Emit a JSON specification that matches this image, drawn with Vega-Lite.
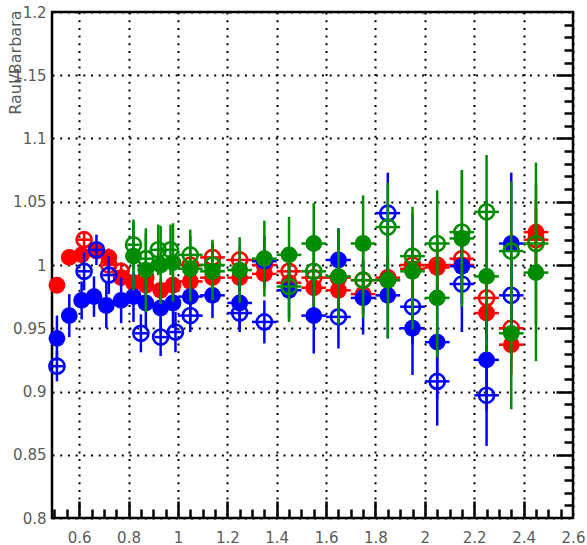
{
  "$schema": "https://vega.github.io/schema/vega-lite/v6.json",
  "autosize": "none",
  "width": 521,
  "height": 506,
  "padding": {"left": 52, "top": 12, "right": 14, "bottom": 27},
  "background": "white",
  "config": {
    "view": {"stroke": "black", "strokeWidth": 2.5},
    "axis": {
      "labelFont": "DejaVu Sans",
      "labelFontSize": 15,
      "labelColor": "#5a5a5a",
      "titleFont": "DejaVu Sans",
      "titleColor": "#5a5a5a",
      "gridColor": "black",
      "domain": false,
      "ticks": false,
      "labelFlush": false,
      "labelOverlap": false,
      "labelBound": false
    }
  },
  "data": {
    "values": [
      {"s": "rf", "x": 0.51, "y": 0.984, "e": 0.006, "ex": 0.025},
      {"s": "rf", "x": 0.56, "y": 1.006, "e": 0.006, "ex": 0.025},
      {"s": "rf", "x": 0.61, "y": 1.008, "e": 0.006, "ex": 0.025},
      {"s": "rf", "x": 0.67, "y": 1.011, "e": 0.006, "ex": 0.025},
      {"s": "rf", "x": 0.72, "y": 1.006, "e": 0.007, "ex": 0.025},
      {"s": "rf", "x": 0.77, "y": 0.99, "e": 0.007, "ex": 0.025},
      {"s": "rf", "x": 0.82, "y": 0.986, "e": 0.008, "ex": 0.025},
      {"s": "rf", "x": 0.87, "y": 0.984, "e": 0.008, "ex": 0.025},
      {"s": "rf", "x": 0.93, "y": 0.98, "e": 0.009, "ex": 0.025},
      {"s": "rf", "x": 0.98, "y": 0.984, "e": 0.009, "ex": 0.025},
      {"s": "rf", "x": 1.05, "y": 0.987, "e": 0.01, "ex": 0.05},
      {"s": "rf", "x": 1.14, "y": 0.99, "e": 0.01, "ex": 0.05},
      {"s": "rf", "x": 1.25, "y": 0.99, "e": 0.011, "ex": 0.05},
      {"s": "rf", "x": 1.35, "y": 0.993, "e": 0.012, "ex": 0.05},
      {"s": "rf", "x": 1.45, "y": 0.986, "e": 0.013, "ex": 0.05},
      {"s": "rf", "x": 1.55, "y": 0.982, "e": 0.014, "ex": 0.05},
      {"s": "rf", "x": 1.65, "y": 0.98, "e": 0.015, "ex": 0.05},
      {"s": "rf", "x": 1.75, "y": 0.977, "e": 0.016, "ex": 0.05},
      {"s": "rf", "x": 1.85, "y": 0.988, "e": 0.017, "ex": 0.05},
      {"s": "rf", "x": 1.95, "y": 0.997, "e": 0.018, "ex": 0.05},
      {"s": "rf", "x": 2.05, "y": 0.998, "e": 0.02, "ex": 0.05},
      {"s": "rf", "x": 2.15, "y": 1.0, "e": 0.02, "ex": 0.05},
      {"s": "rf", "x": 2.25, "y": 0.962, "e": 0.022, "ex": 0.05},
      {"s": "rf", "x": 2.35, "y": 0.937, "e": 0.024, "ex": 0.05},
      {"s": "rf", "x": 2.45, "y": 1.026, "e": 0.025, "ex": 0.05},

      {"s": "ro", "x": 0.62, "y": 1.02, "e": 0.006, "ex": 0.025},
      {"s": "ro", "x": 0.72, "y": 1.0, "e": 0.007, "ex": 0.025},
      {"s": "ro", "x": 0.77, "y": 0.995, "e": 0.007, "ex": 0.025},
      {"s": "ro", "x": 0.87, "y": 0.99, "e": 0.008, "ex": 0.025},
      {"s": "ro", "x": 1.05, "y": 1.0, "e": 0.01, "ex": 0.05},
      {"s": "ro", "x": 1.14, "y": 1.006, "e": 0.01, "ex": 0.05},
      {"s": "ro", "x": 1.25, "y": 1.004, "e": 0.011, "ex": 0.05},
      {"s": "ro", "x": 1.35, "y": 1.0, "e": 0.012, "ex": 0.05},
      {"s": "ro", "x": 1.45, "y": 0.995, "e": 0.013, "ex": 0.05},
      {"s": "ro", "x": 1.55, "y": 0.99, "e": 0.014, "ex": 0.05},
      {"s": "ro", "x": 1.65, "y": 0.99, "e": 0.015, "ex": 0.05},
      {"s": "ro", "x": 1.75, "y": 0.988, "e": 0.016, "ex": 0.05},
      {"s": "ro", "x": 1.85, "y": 0.99, "e": 0.017, "ex": 0.05},
      {"s": "ro", "x": 1.95, "y": 1.0, "e": 0.018, "ex": 0.05},
      {"s": "ro", "x": 2.05, "y": 1.0, "e": 0.02, "ex": 0.05},
      {"s": "ro", "x": 2.15, "y": 1.005, "e": 0.02, "ex": 0.05},
      {"s": "ro", "x": 2.25, "y": 0.974, "e": 0.022, "ex": 0.05},
      {"s": "ro", "x": 2.35, "y": 0.95, "e": 0.024, "ex": 0.05},
      {"s": "ro", "x": 2.45, "y": 1.02, "e": 0.025, "ex": 0.05},

      {"s": "bf", "x": 0.51, "y": 0.942, "e": 0.018, "ex": 0.025},
      {"s": "bf", "x": 0.56, "y": 0.96, "e": 0.017, "ex": 0.025},
      {"s": "bf", "x": 0.61, "y": 0.972, "e": 0.015, "ex": 0.025},
      {"s": "bf", "x": 0.66, "y": 0.975, "e": 0.016, "ex": 0.025},
      {"s": "bf", "x": 0.71, "y": 0.968, "e": 0.018, "ex": 0.025},
      {"s": "bf", "x": 0.77, "y": 0.972, "e": 0.018, "ex": 0.025},
      {"s": "bf", "x": 0.82, "y": 0.975, "e": 0.02, "ex": 0.025},
      {"s": "bf", "x": 0.87, "y": 0.97, "e": 0.02, "ex": 0.025},
      {"s": "bf", "x": 0.93, "y": 0.966, "e": 0.02, "ex": 0.025},
      {"s": "bf", "x": 0.98, "y": 0.97, "e": 0.02, "ex": 0.025},
      {"s": "bf", "x": 1.05, "y": 0.975, "e": 0.02, "ex": 0.05},
      {"s": "bf", "x": 1.14, "y": 0.976, "e": 0.018, "ex": 0.05},
      {"s": "bf", "x": 1.25, "y": 0.97, "e": 0.02, "ex": 0.05},
      {"s": "bf", "x": 1.35, "y": 1.003, "e": 0.02, "ex": 0.05},
      {"s": "bf", "x": 1.45, "y": 0.98, "e": 0.022, "ex": 0.05},
      {"s": "bf", "x": 1.55, "y": 0.96, "e": 0.03, "ex": 0.05},
      {"s": "bf", "x": 1.65, "y": 1.004, "e": 0.025, "ex": 0.05},
      {"s": "bf", "x": 1.75, "y": 0.974, "e": 0.029, "ex": 0.05},
      {"s": "bf", "x": 1.85, "y": 0.976, "e": 0.034, "ex": 0.05},
      {"s": "bf", "x": 1.95, "y": 0.95, "e": 0.037, "ex": 0.05},
      {"s": "bf", "x": 2.05, "y": 0.939, "e": 0.045, "ex": 0.05},
      {"s": "bf", "x": 2.15, "y": 0.999, "e": 0.03, "ex": 0.05},
      {"s": "bf", "x": 2.25, "y": 0.925, "e": 0.04, "ex": 0.05},
      {"s": "bf", "x": 2.35, "y": 1.017, "e": 0.056, "ex": 0.05},

      {"s": "bo", "x": 0.51, "y": 0.92, "e": 0.012, "ex": 0.025},
      {"s": "bo", "x": 0.62, "y": 0.995, "e": 0.015, "ex": 0.025},
      {"s": "bo", "x": 0.67, "y": 1.012, "e": 0.012, "ex": 0.025},
      {"s": "bo", "x": 0.72, "y": 0.992, "e": 0.015, "ex": 0.025},
      {"s": "bo", "x": 0.85, "y": 0.946, "e": 0.015, "ex": 0.025},
      {"s": "bo", "x": 0.93, "y": 0.943, "e": 0.015, "ex": 0.025},
      {"s": "bo", "x": 0.99, "y": 0.947, "e": 0.016, "ex": 0.025},
      {"s": "bo", "x": 1.05, "y": 0.96, "e": 0.013, "ex": 0.05},
      {"s": "bo", "x": 1.25, "y": 0.962, "e": 0.015, "ex": 0.05},
      {"s": "bo", "x": 1.35, "y": 0.955, "e": 0.017, "ex": 0.05},
      {"s": "bo", "x": 1.65, "y": 0.959, "e": 0.025, "ex": 0.05},
      {"s": "bo", "x": 1.85, "y": 1.041, "e": 0.032, "ex": 0.05},
      {"s": "bo", "x": 1.95, "y": 0.967, "e": 0.03, "ex": 0.05},
      {"s": "bo", "x": 2.05, "y": 0.908, "e": 0.035, "ex": 0.05},
      {"s": "bo", "x": 2.15, "y": 0.985, "e": 0.038, "ex": 0.05},
      {"s": "bo", "x": 2.25, "y": 0.897, "e": 0.04, "ex": 0.05},
      {"s": "bo", "x": 2.35, "y": 0.976, "e": 0.03, "ex": 0.05},

      {"s": "gf", "x": 0.82, "y": 1.007, "e": 0.027, "ex": 0.025},
      {"s": "gf", "x": 0.87, "y": 0.996, "e": 0.033, "ex": 0.025},
      {"s": "gf", "x": 0.93, "y": 1.0, "e": 0.031, "ex": 0.025},
      {"s": "gf", "x": 0.98, "y": 1.002, "e": 0.031, "ex": 0.025},
      {"s": "gf", "x": 1.05, "y": 0.997, "e": 0.026, "ex": 0.05},
      {"s": "gf", "x": 1.14, "y": 0.995, "e": 0.023, "ex": 0.05},
      {"s": "gf", "x": 1.25, "y": 0.996, "e": 0.026, "ex": 0.05},
      {"s": "gf", "x": 1.35, "y": 1.005, "e": 0.03, "ex": 0.05},
      {"s": "gf", "x": 1.45, "y": 1.008, "e": 0.03, "ex": 0.05},
      {"s": "gf", "x": 1.55, "y": 1.017, "e": 0.032, "ex": 0.05},
      {"s": "gf", "x": 1.65, "y": 0.991, "e": 0.038, "ex": 0.05},
      {"s": "gf", "x": 1.75, "y": 1.017, "e": 0.038, "ex": 0.05},
      {"s": "gf", "x": 1.85, "y": 0.988, "e": 0.046, "ex": 0.05},
      {"s": "gf", "x": 1.95, "y": 0.995, "e": 0.046, "ex": 0.05},
      {"s": "gf", "x": 2.05, "y": 0.974, "e": 0.047, "ex": 0.05},
      {"s": "gf", "x": 2.15, "y": 1.021, "e": 0.054, "ex": 0.05},
      {"s": "gf", "x": 2.25, "y": 0.991, "e": 0.06, "ex": 0.05},
      {"s": "gf", "x": 2.35, "y": 0.946, "e": 0.06, "ex": 0.05},
      {"s": "gf", "x": 2.45, "y": 0.994, "e": 0.07, "ex": 0.05},

      {"s": "go", "x": 0.82, "y": 1.016, "e": 0.02, "ex": 0.025},
      {"s": "go", "x": 0.87, "y": 1.005, "e": 0.02, "ex": 0.025},
      {"s": "go", "x": 0.92, "y": 1.012, "e": 0.02, "ex": 0.025},
      {"s": "go", "x": 0.97, "y": 1.012, "e": 0.02, "ex": 0.025},
      {"s": "go", "x": 1.05, "y": 1.008, "e": 0.02, "ex": 0.05},
      {"s": "go", "x": 1.14, "y": 1.0, "e": 0.02, "ex": 0.05},
      {"s": "go", "x": 1.45, "y": 0.983, "e": 0.028, "ex": 0.05},
      {"s": "go", "x": 1.55, "y": 0.995, "e": 0.028, "ex": 0.05},
      {"s": "go", "x": 1.75, "y": 0.988, "e": 0.03, "ex": 0.05},
      {"s": "go", "x": 1.85, "y": 1.03, "e": 0.035, "ex": 0.05},
      {"s": "go", "x": 1.95, "y": 1.007, "e": 0.039, "ex": 0.05},
      {"s": "go", "x": 2.05, "y": 1.017, "e": 0.042, "ex": 0.05},
      {"s": "go", "x": 2.15, "y": 1.026, "e": 0.049, "ex": 0.05},
      {"s": "go", "x": 2.25, "y": 1.042, "e": 0.045, "ex": 0.05},
      {"s": "go", "x": 2.35, "y": 1.011, "e": 0.055, "ex": 0.05},
      {"s": "go", "x": 2.45, "y": 1.017, "e": 0.064, "ex": 0.05}
    ]
  },
  "resolve": {"axis": {"x": "independent", "y": "independent"}},
  "layer": [
    {
      "description": "red filled vertical error bars; its axes draw the short inward minor ticks as grid lines dashed only at the frame end",
      "transform": [{"filter": "datum.s === 'rf'"}],
      "mark": {"type": "errorbar", "color": "#ff0000", "thickness": 2.5},
      "encoding": {
        "x": {
          "field": "x", "type": "quantitative",
          "scale": {"domain": [0.49, 2.6], "nice": false, "zero": false},
          "axis": {
            "orient": "bottom", "title": null, "labels": false,
            "grid": true, "gridDash": [9, 497], "gridDashOffset": 9, "gridWidth": 2.5,
            "values": [0.5, 0.55, 0.65, 0.7, 0.75, 0.85, 0.9, 0.95, 1.05, 1.1, 1.15, 1.25, 1.3, 1.35, 1.45, 1.5, 1.55, 1.65, 1.7, 1.75, 1.85, 1.9, 1.95, 2.05, 2.1, 2.15, 2.25, 2.3, 2.35, 2.45, 2.5, 2.55]
          }
        },
        "y": {
          "field": "y", "type": "quantitative",
          "scale": {"domain": [0.8, 1.2], "nice": false, "zero": false},
          "axis": {
            "orient": "left", "title": null, "labels": false,
            "grid": true, "gridDash": [9, 512], "gridDashOffset": 9, "gridWidth": 2.5,
            "values": [0.81, 0.82, 0.83, 0.84, 0.86, 0.87, 0.88, 0.89, 0.91, 0.92, 0.93, 0.94, 0.96, 0.97, 0.98, 0.99, 1.01, 1.02, 1.03, 1.04, 1.06, 1.07, 1.08, 1.09, 1.11, 1.12, 1.13, 1.14, 1.16, 1.17, 1.18, 1.19]
          }
        },
        "yError": {"field": "e"}
      }
    },
    {
      "description": "red filled markers; carries the labelled bottom/left axes and the dotted grid",
      "transform": [{"filter": "datum.s === 'rf'"}],
      "encoding": {
        "x": {
          "field": "x", "type": "quantitative",
          "scale": {"domain": [0.49, 2.6], "nice": false, "zero": false},
          "axis": {
            "orient": "bottom", "title": null, "format": "~g", "labelPadding": 12,
            "grid": true, "gridDash": [2, 5.7], "gridWidth": 2,
            "values": [0.6, 0.8, 1.0, 1.2, 1.4, 1.6, 1.8, 2.0, 2.2, 2.4, 2.6]
          }
        },
        "y": {
          "field": "y", "type": "quantitative",
          "scale": {"domain": [0.8, 1.2], "nice": false, "zero": false},
          "axis": {
            "orient": "left", "format": "~g", "labelPadding": 6,
            "grid": true, "gridDash": [2, 5.7], "gridWidth": 2,
            "values": [0.8, 0.85, 0.9, 0.95, 1.0, 1.05, 1.1, 1.15, 1.2],
            "title": "Raul/Barbara",
            "titleFontSize": 16,
            "titleFontWeight": "normal",
            "titleAngle": -90,
            "titleAlign": "right",
            "titleBaseline": "middle",
            "titleAnchor": "end",
            "titleX": -37,
            "titleY": -2
          }
        }
      },
      "layer": [
        {"mark": {"type": "errorbar", "color": "#ff0000", "thickness": 2.5}, "encoding": {"xError": {"field": "ex"}}},
        {"mark": {"type": "point", "shape": "circle", "filled": true, "color": "#ff0000", "opacity": 1, "size": 283}}
      ]
    },
    {
      "description": "remaining series; its axes draw the longer inward major ticks",
      "encoding": {
        "x": {
          "field": "x", "type": "quantitative",
          "scale": {"domain": [0.49, 2.6], "nice": false, "zero": false},
          "axis": {
            "orient": "bottom", "title": null, "labels": false,
            "grid": true, "gridDash": [17, 489], "gridDashOffset": 17, "gridWidth": 2.5,
            "values": [0.6, 0.8, 1.0, 1.2, 1.4, 1.6, 1.8, 2.0, 2.2, 2.4]
          }
        },
        "y": {
          "field": "y", "type": "quantitative",
          "scale": {"domain": [0.8, 1.2], "nice": false, "zero": false},
          "axis": {
            "orient": "left", "title": null, "labels": false,
            "grid": true, "gridDash": [17, 504], "gridDashOffset": 17, "gridWidth": 2.5,
            "values": [0.85, 0.9, 0.95, 1.0, 1.05, 1.1, 1.15]
          }
        }
      },
      "layer": [
        {"transform": [{"filter": "datum.s === 'ro'"}], "mark": {"type": "errorbar", "color": "#ff0000", "thickness": 2.5}, "encoding": {"yError": {"field": "e"}}},
        {"transform": [{"filter": "datum.s === 'ro'"}], "mark": {"type": "errorbar", "color": "#ff0000", "thickness": 2.5}, "encoding": {"xError": {"field": "ex"}}},
        {"transform": [{"filter": "datum.s === 'ro'"}], "mark": {"type": "point", "shape": "circle", "filled": false, "color": "#ff0000", "opacity": 1, "strokeWidth": 2.6, "size": 227}},

        {"transform": [{"filter": "datum.s === 'bf'"}], "mark": {"type": "errorbar", "color": "#0000ff", "thickness": 2.5}, "encoding": {"yError": {"field": "e"}}},
        {"transform": [{"filter": "datum.s === 'bf'"}], "mark": {"type": "errorbar", "color": "#0000ff", "thickness": 2.5}, "encoding": {"xError": {"field": "ex"}}},
        {"transform": [{"filter": "datum.s === 'bf'"}], "mark": {"type": "point", "shape": "circle", "filled": true, "color": "#0000ff", "opacity": 1, "size": 283}},

        {"transform": [{"filter": "datum.s === 'bo'"}], "mark": {"type": "errorbar", "color": "#0000ff", "thickness": 2.5}, "encoding": {"yError": {"field": "e"}}},
        {"transform": [{"filter": "datum.s === 'bo'"}], "mark": {"type": "errorbar", "color": "#0000ff", "thickness": 2.5}, "encoding": {"xError": {"field": "ex"}}},
        {"transform": [{"filter": "datum.s === 'bo'"}], "mark": {"type": "point", "shape": "circle", "filled": false, "color": "#0000ff", "opacity": 1, "strokeWidth": 2.6, "size": 227}},

        {"transform": [{"filter": "datum.s === 'gf'"}], "mark": {"type": "errorbar", "color": "#008c00", "thickness": 2.5}, "encoding": {"yError": {"field": "e"}}},
        {"transform": [{"filter": "datum.s === 'gf'"}], "mark": {"type": "errorbar", "color": "#008c00", "thickness": 2.5}, "encoding": {"xError": {"field": "ex"}}},
        {"transform": [{"filter": "datum.s === 'gf'"}], "mark": {"type": "point", "shape": "circle", "filled": true, "color": "#008c00", "opacity": 1, "size": 283}},

        {"transform": [{"filter": "datum.s === 'go'"}], "mark": {"type": "errorbar", "color": "#008c00", "thickness": 2.5}, "encoding": {"yError": {"field": "e"}}},
        {"transform": [{"filter": "datum.s === 'go'"}], "mark": {"type": "errorbar", "color": "#008c00", "thickness": 2.5}, "encoding": {"xError": {"field": "ex"}}},
        {"transform": [{"filter": "datum.s === 'go'"}], "mark": {"type": "point", "shape": "circle", "filled": false, "color": "#008c00", "opacity": 1, "strokeWidth": 2.6, "size": 227}}
      ]
    }
  ]
}
